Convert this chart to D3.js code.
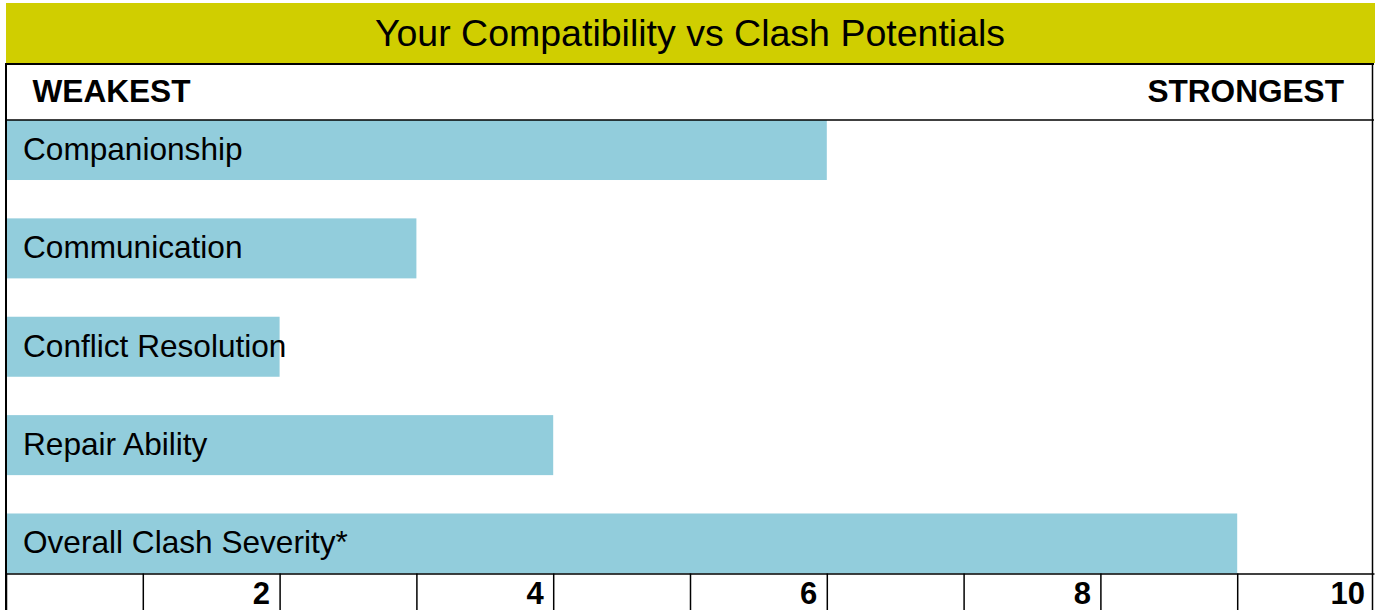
<!DOCTYPE html>
<html>
<head>
<meta charset="utf-8">
<script src="https://cdn.jsdelivr.net/npm/d3@7"></script>
<style>
  html, body { margin: 0; padding: 0; background: #fff; }
  svg { display: block; font-family: "Liberation Sans", Arial, sans-serif; }
</style>
</head>
<body>
<svg id="chart" width="1379" height="610"></svg>
<script>
const title = "Your Compatibility vs Clash Potentials";
const leftHeader = "WEAKEST";
const rightHeader = "STRONGEST";
const categories = ["Companionship", "Communication", "Conflict Resolution", "Repair Ability", "Overall Clash Severity*"];
const values = [6, 3, 2, 4, 9];
const tickValues = [0, 1, 2, 3, 4, 5, 6, 7, 8, 9, 10];
const tickLabels = ["", "", "2", "", "4", "", "6", "", "8", "", "10"];

const svg = d3.select("#chart");
const W = 1379, H = 610;
const left = 6, right = 1374;
const titleTop = 3, titleBottom = 63;
const plotTop = 120, plotBottom = 573.5;

const x = d3.scaleLinear().domain([0, 10]).range([left, right]);
const y = d3.scaleBand().domain(categories).range([plotTop, plotBottom]).paddingInner(0.39).paddingOuter(0);

// title bar
svg.append("rect").attr("x", left).attr("y", titleTop).attr("width", right + 1 - left).attr("height", titleBottom - titleTop).attr("fill", "#D0CE00");
svg.append("text").attr("x", (left + right) / 2).attr("y", 45.5).attr("text-anchor", "middle")
  .attr("font-size", 37.5).attr("fill", "#000").text(title);

// header texts
svg.append("text").attr("x", 32.5).attr("y", 102).attr("font-size", 31.6).attr("font-weight", "bold").text(leftHeader);
svg.append("text").attr("x", 1344).attr("y", 102).attr("text-anchor", "end").attr("font-size", 31.6).attr("font-weight", "bold").text(rightHeader);

// bars
svg.append("g").selectAll("rect").data(categories).join("rect")
  .attr("x", x(0)).attr("y", d => y(d)).attr("width", (d, i) => x(values[i]) - x(0)).attr("height", y.bandwidth())
  .attr("fill", "#92CDDC");

// bar labels
svg.append("g").selectAll("text").data(categories).join("text")
  .attr("x", 23).attr("y", d => y(d) + y.bandwidth() / 2 + 9.8)
  .attr("font-size", 31.6).attr("fill", "#000").text(d => d);

// frame lines
const frame = svg.append("g").attr("stroke", "#000").attr("fill", "none");
frame.append("line").attr("x1", left).attr("x2", right).attr("y1", 64).attr("y2", 64).attr("stroke-width", 2);
frame.append("line").attr("x1", left).attr("x2", right).attr("y1", 120).attr("y2", 120).attr("stroke-width", 1.5);
frame.append("line").attr("x1", left).attr("x2", left).attr("y1", 63).attr("y2", H).attr("stroke-width", 2);
frame.append("line").attr("x1", right - 1.5).attr("x2", right - 1.5).attr("y1", 63).attr("y2", H).attr("stroke-width", 1.5);

// bottom axis
const axis = d3.axisBottom(x).tickValues(tickValues).tickSize(H - plotBottom).tickSizeOuter(0)
  .tickFormat((d, i) => tickLabels[i]);
const ag = svg.append("g").attr("transform", `translate(0,${plotBottom})`).call(axis);
ag.select(".domain").attr("stroke", "#000").attr("stroke-width", 1.5);
ag.selectAll(".tick line").attr("stroke", "#000").attr("stroke-width", 1.5)
  .attr("display", d => d === 10 ? "none" : null);
ag.selectAll(".tick text").attr("text-anchor", "end").attr("dx", (d) => d === 10 ? -9.5 : -10).attr("y", 30.5).attr("dy", 0)
  .attr("font-size", 31).attr("font-weight", "bold").attr("fill", "#000")
  .attr("font-family", "'Liberation Sans', Arial, sans-serif");
</script>
</body>
</html>
